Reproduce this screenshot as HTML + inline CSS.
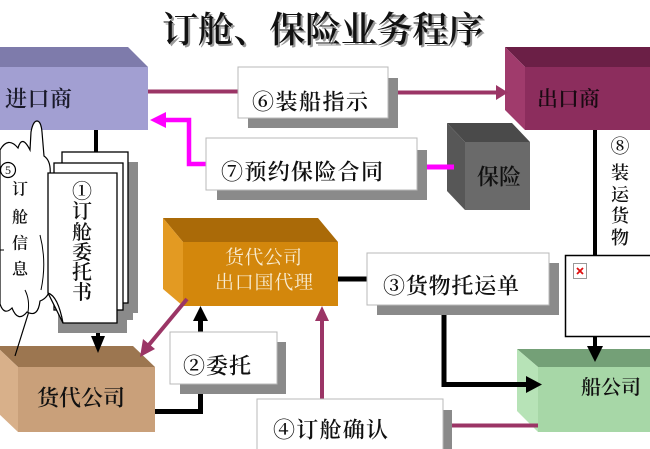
<!DOCTYPE html>
<html><head><meta charset="utf-8">
<style>
html,body{margin:0;padding:0;background:#fff;}
svg{display:block;}
text{font-family:"Liberation Serif","Noto Serif CJK SC","Noto Sans CJK SC",serif;dominant-baseline:central;}
.b{font-weight:600;}
</style></head>
<body>
<svg width="650" height="449" viewBox="0 0 650 449" xmlns="http://www.w3.org/2000/svg">
<rect width="650" height="449" fill="#fff"/>
<!-- title -->
<text x="164" y="32" font-size="36" font-weight="600" fill="#9a9a9a" textLength="322" lengthAdjust="spacing">订舱、保险业务程序</text>
<text x="162" y="30" font-size="36" font-weight="600" fill="#111" textLength="322" lengthAdjust="spacing">订舱、保险业务程序</text>

<!-- 进口商 lavender box -->
<polygon points="-20,47 128,47 148,67 0,67" fill="#7e7bab"/>
<rect x="0" y="67" width="148" height="63" fill="#a29fd2"/>
<text class="b" x="5" y="99" font-size="22" fill="#1a1a2a" textLength="67" lengthAdjust="spacing">进口商</text>

<!-- 出口商 maroon box -->
<polygon points="505,47 650,47 650,67 525,67" fill="#6b1f46"/>
<polygon points="505,47 525,67 525,130 505,110" fill="#a03b6c"/>
<rect x="525" y="67" width="125" height="63" fill="#8c2d5d"/>
<text class="b" x="537" y="99" font-size="21" fill="#1a0a12" textLength="63" lengthAdjust="spacing">出口商</text>

<!-- 保险 gray cube -->
<polygon points="447,123 512,123 530,142 465,142" fill="#4a4a4a"/>
<polygon points="447,123 465,142 465,210 447,191" fill="#575757"/>
<rect x="465" y="142" width="65" height="68" fill="#6a6a6a"/>
<text class="b" x="477" y="177" font-size="22" fill="#111" textLength="44" lengthAdjust="spacing">保险</text>

<!-- 货代公司 出口国代理 orange -->
<polygon points="163,218 318,218 338,242 183,242" fill="#aa6a08"/>
<polygon points="163,218 183,242 183,306 163,289" fill="#e39a22"/>
<rect x="183" y="242" width="155" height="64" fill="#d3870c"/>
<text x="225" y="258" font-size="19" fill="#f8ecd2" textLength="77" lengthAdjust="spacing">货代公司</text>
<text x="215" y="283" font-size="19" fill="#f8ecd2" textLength="98" lengthAdjust="spacing">出口国代理</text>

<!-- 船公司 green -->
<polygon points="517,349 650,349 650,367 538,367" fill="#74a077"/>
<polygon points="517,349 538,367 538,432 517,411" fill="#b7e3b7"/>
<rect x="538" y="367" width="112" height="65" fill="#a7d7a7"/>
<text class="b" x="581" y="388" font-size="20" fill="#111" textLength="60" lengthAdjust="spacing">船公司</text>

<!-- 货代公司 tan -->
<polygon points="-4,346 133,346 155,367 18,367" fill="#9c7650"/>
<polygon points="-4,346 18,367 18,432 -4,411" fill="#d8b08a"/>
<rect x="18" y="367" width="137" height="65" fill="#c9a07a"/>
<text class="b" x="37" y="398" font-size="22" fill="#111" textLength="88" lengthAdjust="spacing">货代公司</text>

<!-- cloud callout -->
<line x1="30" y1="308" x2="15" y2="356" stroke="#000" stroke-width="1.2"/>
<path d="M0,150 Q8,136 18,148 Q22,134 30,150 L31,132 Q33,121 37,121 Q41,121 42,132 L44,156 Q53,162 49,182 Q56,202 51,226 Q57,250 50,276 Q53,296 40,301 Q38,318 27,312 Q18,323 12,308 Q4,316 0,304 Z" fill="#fff" stroke="#000" stroke-width="1.2"/>
<path d="M40,235 Q47,262 41,290" fill="none" stroke="#000" stroke-width="1"/>
<path d="M25,290 Q30,300 28,312" fill="none" stroke="#000" stroke-width="1"/>
<line x1="0" y1="250" x2="4" y2="250" stroke="#000" stroke-width="1"/>
<circle cx="8" cy="170" r="7.5" fill="#fff" stroke="#000" stroke-width="1.2"/>
<text x="8" y="170" font-size="12" fill="#111" text-anchor="middle">5</text>
<text class="b" x="20" y="190" font-size="16" fill="#111" text-anchor="middle">订</text>
<text class="b" x="20" y="218" font-size="16" fill="#111" text-anchor="middle">舱</text>
<text class="b" x="20" y="244" font-size="16" fill="#111" text-anchor="middle">信</text>
<text class="b" x="20" y="270" font-size="16" fill="#111" text-anchor="middle">息</text>

<!-- document stack -->
<rect x="72" y="162" width="66" height="151" fill="#8a8a8a"/>
<rect x="64" y="173" width="69" height="147" fill="#8a8a8a"/>
<rect x="58" y="183" width="69" height="150" fill="#8a8a8a"/>
<rect x="62" y="152" width="66" height="151" fill="#fff" stroke="#000" stroke-width="1.3"/>
<rect x="54" y="163" width="69" height="147" fill="#fff" stroke="#000" stroke-width="1.3"/>
<polygon points="48,173 117,173 117,323 63,323 48,293" fill="#fff" stroke="#000" stroke-width="1.3"/>
<path d="M48,293 Q58,296 63,323" fill="none" stroke="#000" stroke-width="1.2"/>
<text class="b" x="82" y="192" font-size="20" fill="#111" text-anchor="middle">①</text>
<text class="b" x="82" y="212" font-size="20" fill="#111" text-anchor="middle">订</text>
<text class="b" x="82" y="233" font-size="20" fill="#111" text-anchor="middle">舱</text>
<text class="b" x="82" y="253" font-size="20" fill="#111" text-anchor="middle">委</text>
<text class="b" x="82" y="273" font-size="20" fill="#111" text-anchor="middle">托</text>
<text class="b" x="82" y="293" font-size="20" fill="#111" text-anchor="middle">书</text>

<!-- connectors -->
<line x1="96" y1="130" x2="96" y2="152" stroke="#000" stroke-width="4"/>
<line x1="98" y1="333" x2="98" y2="340" stroke="#000" stroke-width="4"/>
<polygon points="91,336 105,336 98,353" fill="#000"/>

<line x1="148" y1="91.5" x2="240" y2="91.5" stroke="#9b3566" stroke-width="4"/>
<line x1="396" y1="92.5" x2="498" y2="92.5" stroke="#9b3566" stroke-width="4"/>
<polygon points="496,85 496,100 508,92.5" fill="#9b3566"/>

<polyline points="207,164 189,164 189,120 163,120" fill="none" stroke="#ff00ff" stroke-width="4.5"/>
<polygon points="150,120 166,112 166,128" fill="#ff00ff"/>
<line x1="423" y1="167" x2="454" y2="167" stroke="#ff00ff" stroke-width="5"/>

<line x1="338" y1="279" x2="368" y2="279" stroke="#000" stroke-width="5"/>
<polyline points="444,305 444,384.5 528,384.5" fill="none" stroke="#000" stroke-width="5"/>
<polygon points="526,376 526,393 542,384.5" fill="#000"/>

<line x1="595" y1="130" x2="595" y2="256" stroke="#000" stroke-width="4"/>
<line x1="595" y1="337" x2="595" y2="350" stroke="#000" stroke-width="4"/>
<polygon points="587,346 603,346 595,362" fill="#000"/>
<text class="b" x="620" y="147" font-size="19" fill="#111" text-anchor="middle">⑧</text>
<text class="b" x="620" y="173" font-size="18" fill="#111" text-anchor="middle">装</text>
<text class="b" x="620" y="195" font-size="18" fill="#111" text-anchor="middle">运</text>
<text class="b" x="620" y="216" font-size="18" fill="#111" text-anchor="middle">货</text>
<text class="b" x="620" y="238" font-size="18" fill="#111" text-anchor="middle">物</text>

<line x1="450" y1="425.5" x2="538" y2="425.5" stroke="#9b3566" stroke-width="4"/>
<line x1="322" y1="400" x2="322" y2="318" stroke="#9b3566" stroke-width="4"/>
<polygon points="315,321 329,321 322,306" fill="#9b3566"/>
<line x1="187" y1="299" x2="148" y2="346" stroke="#9b3566" stroke-width="4"/>
<polygon points="140,357 143,339 155,349" fill="#9b3566"/>

<polyline points="155,411.5 200.5,411.5 200.5,318" fill="none" stroke="#000" stroke-width="5"/>
<polygon points="193,321 208,321 200.5,306" fill="#000"/>

<!-- white label boxes with shadows -->
<rect x="248" y="78" width="150" height="50" fill="#8a8a8a"/>
<rect x="238" y="67" width="150" height="51" fill="#fff" stroke="#b8b8b8" stroke-width="1"/>
<text class="b" x="252" y="102" font-size="22" fill="#111" textLength="116" lengthAdjust="spacing">⑥装船指示</text>

<rect x="217" y="150" width="210" height="50" fill="#8a8a8a"/>
<rect x="206" y="138" width="211" height="52" fill="#fff" stroke="#b8b8b8" stroke-width="1"/>
<text class="b" x="221" y="172" font-size="22" fill="#111" textLength="162" lengthAdjust="spacing">⑦预约保险合同</text>

<rect x="180" y="342" width="106" height="52" fill="#8a8a8a"/>
<rect x="170" y="332" width="107" height="52" fill="#fff" stroke="#b8b8b8" stroke-width="1"/>
<text class="b" x="183" y="366" font-size="22" fill="#111" textLength="68" lengthAdjust="spacing">②委托</text>

<rect x="377" y="263" width="182" height="52" fill="#8a8a8a"/>
<rect x="367" y="253" width="182" height="52" fill="#fff" stroke="#b8b8b8" stroke-width="1"/>
<text class="b" x="383" y="286" font-size="22" fill="#111" textLength="136" lengthAdjust="spacing">③货物托运单</text>

<rect x="266" y="410" width="186" height="50" fill="#8a8a8a"/>
<rect x="257" y="399" width="186" height="60" fill="#fff" stroke="#b8b8b8" stroke-width="1"/>
<text class="b" x="273" y="430" font-size="22" fill="#111" textLength="115" lengthAdjust="spacing">④订舱确认</text>

<!-- white box with broken image -->
<rect x="565.5" y="255.5" width="90" height="81" fill="#fff" stroke="#000" stroke-width="1.5"/>
<rect x="573.5" y="263.5" width="13" height="15" fill="#fff" stroke="#999" stroke-width="1"/>
<path d="M577,268 L583,274 M583,268 L577,274" stroke="#e01010" stroke-width="1.8"/>
</svg>
</body></html>
